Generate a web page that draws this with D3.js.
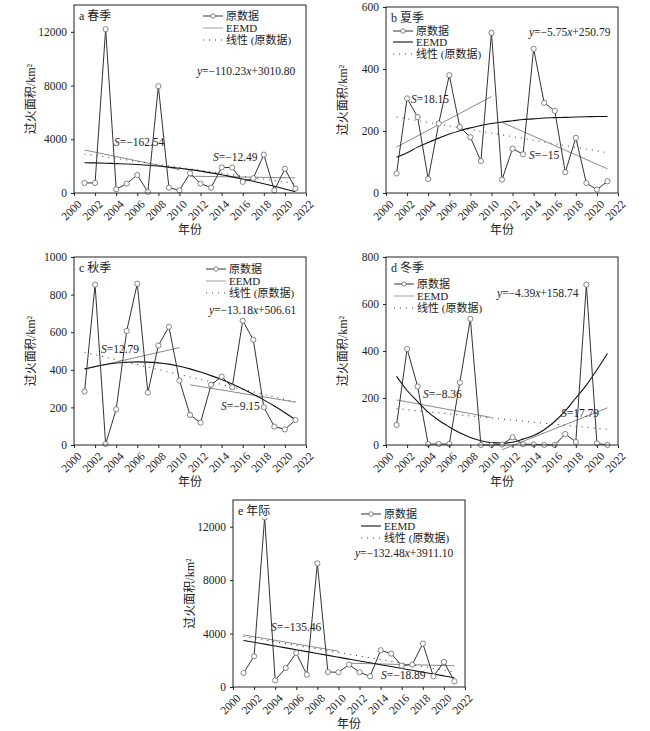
<!DOCTYPE html>
<html>
<head>
<meta charset="utf-8">
<script src="https://cdn.jsdelivr.net/npm/d3@7"></script>
<style>
body { margin: 0; background: #fff; }
text { font-family: "Liberation Serif", "Noto Sans CJK SC", serif; fill: #222; }
</style>
</head>
<body>
<svg width="650" height="731"></svg>
<script>
// Data
const years = [2001, 2002, 2003, 2004, 2005, 2006, 2007, 2008, 2009, 2010, 2011,
               2012, 2013, 2014, 2015, 2016, 2017, 2018, 2019, 2020, 2021];
const xTicks = [2000, 2002, 2004, 2006, 2008, 2010, 2012, 2014, 2016, 2018, 2020, 2022];

const springArea = [750, 750, 12200, 280, 700, 1340, 80, 7950, 400, 200, 1470,
                    700, 400, 1900, 1900, 830, 1100, 2860, 200, 1800, 330];
const springEemd = [2250, 2240, 2220, 2190, 2160, 2120, 2070, 2010, 1930, 1840, 1740,
                    1630, 1500, 1360, 1200, 1040, 870, 690, 500, 300, 90];
const springSen = [[2001, 3200, 2010, 1740], [2011, 1250, 2021, 1125]];

const summerArea = [63, 305, 245, 45, 224, 380, 213, 180, 103, 517, 43,
                    143, 125, 465, 291, 265, 67, 178, 32, 11, 38];
const summerEemd = [115, 130, 148, 163, 177, 190, 201, 210, 218, 224, 229,
                    233, 237, 239, 242, 243, 244, 245, 246, 247, 247];
const summerSen = [[2001, 148, 2010, 311], [2011, 228, 2021, 78]];

const autumnArea = [284, 853, 5, 190, 607, 858, 279, 529, 629, 343, 160,
                    119, 320, 364, 307, 661, 560, 201, 98, 83, 133];
const autumnEemd = [405, 418, 428, 436, 440, 442, 441, 437, 430, 419, 405,
                    388, 369, 348, 324, 298, 270, 240, 207, 172, 135];
const autumnSen = [[2001, 403, 2010, 518], [2011, 320, 2021, 228]];

const winterArea = [85, 409, 249, 4, 4, 4, 266, 537, 0, 0, 2,
                    33, 3, 3, 0, 0, 47, 13, 682, 7, 0];
const winterEemd = [292, 232, 185, 140, 105, 77, 52, 32, 18, 10, 8,
                    12, 25, 40, 65, 100, 145, 200, 255, 320, 390];
const winterSen = [[2001, 192, 2010, 117], [2011, -20, 2021, 158]];

const annualArea = [1050, 2300, 12700, 500, 1425, 2550, 925, 9250, 1125, 1100, 1675,
                    1100, 800, 2750, 2500, 1600, 1675, 3250, 800, 1875, 425];
const annualEemd = [3480, 3350, 3210, 3070, 2930, 2790, 2650, 2510, 2370, 2230, 2090,
                    1950, 1810, 1670, 1530, 1390, 1250, 1110, 970, 830, 690];
const annualSen = [[2001, 3900, 2010, 2680], [2011, 1780, 2021, 1590]];

// linear fit coefficients shown on the chart: y = k*x + b, x = year - 2000
const fitSlope = [-110.23, -5.75, -13.18, -4.39, -132.48];
const fitIntercept = [3010.80, 250.79, 506.61, 158.74, 3911.10];

const svg = d3.select("svg");

function eqText(sel, k, b) {
  sel.append("tspan").attr("font-style", "italic").text("y");
  sel.append("tspan").text("=\u2212" + Math.abs(k).toFixed(2));
  sel.append("tspan").attr("font-style", "italic").text("x");
  sel.append("tspan").text("+" + b.toFixed(2));
}

function sText(sel, s) {
  sel.append("tspan").attr("font-style", "italic").text("S");
  sel.append("tspan").text("=" + (s < 0 ? "\u2212" + Math.abs(s) : s));
}

function drawPanel(p) {
  const x = d3.scaleLinear().domain([2000, 2022]).range([p.left, p.right]);
  const y = d3.scaleLinear().domain([0, p.ymax]).range([p.bottom, p.top]);
  const g = svg.append("g");

  // Sen slope segments (gray)
  p.sen.forEach(s => {
    g.append("line")
      .attr("x1", x(s[0])).attr("y1", y(s[1]))
      .attr("x2", x(s[2])).attr("y2", y(s[3]))
      .attr("stroke", "#8a8a8a").attr("stroke-width", 1);
  });

  // linear fit (dotted)
  const fit = [years[0], years[years.length - 1]].map(yr => [yr, p.k * (yr - 2000) + p.b]);
  g.append("line")
    .attr("x1", x(fit[0][0])).attr("y1", y(fit[0][1]))
    .attr("x2", x(fit[1][0])).attr("y2", y(fit[1][1]))
    .attr("stroke", "#444").attr("stroke-width", 1.1)
    .attr("stroke-dasharray", "1,5");

  // EEMD trend
  g.append("path")
    .datum(p.eemd)
    .attr("fill", "none").attr("stroke", "#111").attr("stroke-width", 1.1)
    .attr("d", d3.line().x((d, i) => x(years[i])).y(d => y(d)).curve(d3.curveMonotoneX));

  // original data
  g.append("path")
    .datum(p.area)
    .attr("fill", "none").attr("stroke", "#333").attr("stroke-width", 1)
    .attr("d", d3.line().x((d, i) => x(years[i])).y(d => y(d)));
  g.selectAll("circle.pt").data(p.area).join("circle")
    .attr("cx", (d, i) => x(years[i])).attr("cy", d => y(d)).attr("r", 2.6)
    .attr("fill", "#fff").attr("stroke", "#666").attr("stroke-width", 0.8);

  // frame
  g.append("rect")
    .attr("x", p.left).attr("y", p.top)
    .attr("width", p.right - p.left).attr("height", p.bottom - p.top)
    .attr("fill", "none").attr("stroke", "#222").attr("stroke-width", 1);

  // axes
  const xa = g.append("g").attr("transform", `translate(0,${p.bottom})`)
    .call(d3.axisBottom(x).tickValues(xTicks).tickFormat(d3.format("d")).tickSize(3).tickSizeOuter(0));
  xa.select(".domain").remove();
  xa.selectAll("text")
    .attr("font-size", 11.5)
    .attr("text-anchor", "end")
    .attr("y", 0)
    .attr("dy", "0.35em")
    .attr("transform", "translate(5,9) rotate(-45)");

  const ya = g.append("g").attr("transform", `translate(${p.left},0)`)
    .call(d3.axisLeft(y).tickValues(p.yTicks).tickFormat(d3.format("d")).tickSize(3).tickSizeOuter(0));
  ya.select(".domain").remove();
  ya.selectAll("text").attr("font-size", 11.5).attr("dx", "-1");
  svg.selectAll(".tick line").attr("stroke", "#222");

  // axis titles
  g.append("text")
    .attr("transform", `translate(${p.left - 39},${(p.top + p.bottom) / 2}) rotate(-90)`)
    .attr("text-anchor", "middle").attr("font-size", 12)
    .text("过火面积/km²");
  g.append("text")
    .attr("x", (p.left + p.right) / 2).attr("y", p.bottom + 41)
    .attr("text-anchor", "middle").attr("font-size", 12)
    .text("年份");

  // panel title with white backing
  const t = g.append("text")
    .attr("x", p.left + 5).attr("y", p.top + 15)
    .attr("font-size", 12).text(p.title);
  const bb = t.node().getBBox();
  g.insert("rect", () => t.node())
    .attr("x", bb.x - 1).attr("y", bb.y).attr("width", bb.width + 2).attr("height", bb.height)
    .attr("fill", "#fff");

  // legend
  const lg = p.legend;
  const rows = [lg.y0, lg.y1, lg.y2];
  g.append("line").attr("x1", lg.x).attr("x2", lg.x + 20).attr("y1", rows[0]).attr("y2", rows[0])
    .attr("stroke", "#333").attr("stroke-width", 1);
  g.append("circle").attr("cx", lg.x + 10).attr("cy", rows[0]).attr("r", 2.2)
    .attr("fill", "#fff").attr("stroke", "#666").attr("stroke-width", 0.8);
  g.append("line").attr("x1", lg.x).attr("x2", lg.x + 20).attr("y1", rows[1]).attr("y2", rows[1])
    .attr("stroke", lg.eemdDark ? "#111" : "#aaa").attr("stroke-width", 1.1);
  g.append("line").attr("x1", lg.x).attr("x2", lg.x + 20).attr("y1", rows[2]).attr("y2", rows[2])
    .attr("stroke", "#444").attr("stroke-width", 1.1).attr("stroke-dasharray", "1,5");
  ["原数据", "EEMD", "线性 (原数据)"].forEach((s, i) => {
    g.append("text").attr("x", lg.x + 23).attr("y", rows[i]).attr("dy", "0.35em")
      .attr("font-size", 11).text(s);
  });

  // equation
  g.append("text").attr("x", p.eq[0]).attr("y", p.eq[1]).attr("dy", "0.35em")
    .attr("font-size", 11.5).call(eqText, p.k, p.b);

  // Sen labels
  p.sLabels.forEach(s => {
    g.append("text").attr("x", s[0]).attr("y", s[1]).attr("dy", "0.35em")
      .attr("font-size", 11.5).call(sText, s[2]);
  });
}

drawPanel({
  title: "a 春季", left: 74, right: 306, top: 5, bottom: 193, ymax: 14000,
  yTicks: [0, 4000, 8000, 12000], area: springArea, eemd: springEemd, sen: springSen,
  k: fitSlope[0], b: fitIntercept[0],
  legend: { x: 203, y0: 16, y1: 28, y2: 40, eemdDark: false },
  eq: [197, 71], sLabels: [[114, 142, -162.54], [213, 157, -12.49]]
});
drawPanel({
  title: "b 夏季", left: 386, right: 618, top: 7, bottom: 193, ymax: 600,
  yTicks: [0, 200, 400, 600], area: summerArea, eemd: summerEemd, sen: summerSen,
  k: fitSlope[1], b: fitIntercept[1],
  legend: { x: 393, y0: 31, y1: 42, y2: 54, eemdDark: true },
  eq: [529, 32], sLabels: [[411, 99, 18.15], [529, 155, -15]]
});
drawPanel({
  title: "c 秋季", left: 74, right: 306, top: 257, bottom: 445, ymax: 1000,
  yTicks: [0, 200, 400, 600, 800, 1000], area: autumnArea, eemd: autumnEemd, sen: autumnSen,
  k: fitSlope[2], b: fitIntercept[2],
  legend: { x: 206, y0: 269, y1: 281, y2: 293, eemdDark: false },
  eq: [209, 310], sLabels: [[101, 349, 12.79], [221, 406, -9.15]]
});
drawPanel({
  title: "d 冬季", left: 386, right: 618, top: 257, bottom: 445, ymax: 800,
  yTicks: [0, 200, 400, 600, 800], area: winterArea, eemd: winterEemd, sen: winterSen,
  k: fitSlope[3], b: fitIntercept[3],
  legend: { x: 394, y0: 284, y1: 296, y2: 308, eemdDark: false },
  eq: [497, 293], sLabels: [[423, 394, -8.36], [561, 413, 17.79]]
});
drawPanel({
  title: "e 年际", left: 233, right: 465, top: 500, bottom: 687, ymax: 14000,
  yTicks: [0, 4000, 8000, 12000], area: annualArea, eemd: annualEemd, sen: annualSen,
  k: fitSlope[4], b: fitIntercept[4],
  legend: { x: 361, y0: 514, y1: 526, y2: 538, eemdDark: true },
  eq: [355, 553], sLabels: [[271, 627, -135.46], [381, 675, -18.89]]
});
</script>
</body>
</html>
